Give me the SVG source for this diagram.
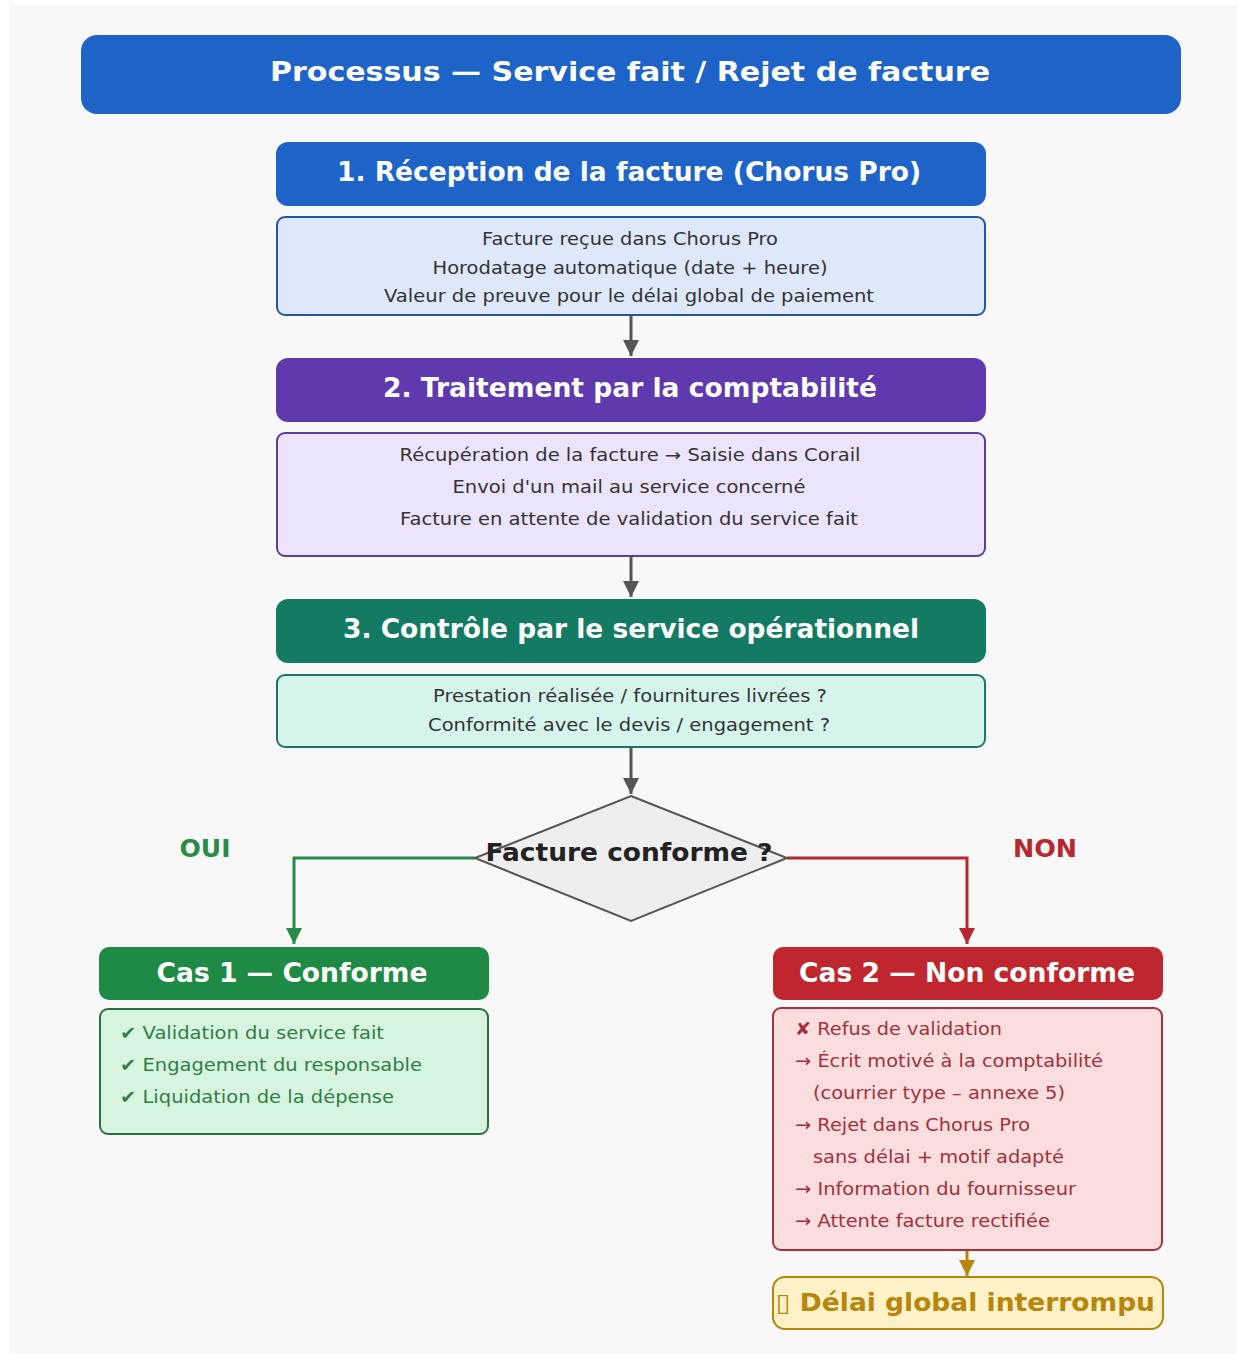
<svg xmlns="http://www.w3.org/2000/svg" width="1237" height="1354" viewBox="0 0 1237 1354">
<style>
text{font-family:"DejaVu Sans","Liberation Sans",sans-serif}
.h{font-weight:bold;fill:#ffffff;text-anchor:middle;font-size:26px}
.b{font-size:17px;fill:#333333;text-anchor:middle}
.g{font-size:18px;fill:#2f7d4a}
.r{font-size:18px;fill:#a3303c}
.conn{fill:none;stroke-width:3}
</style>
<defs>
<marker id="agr" markerWidth="16" markerHeight="16" refX="8" refY="16" orient="0" markerUnits="userSpaceOnUse" viewBox="0 0 16 16"><path d="M0,0 L16,0 L8,16 z" fill="#2a8a4a"/></marker>
<marker id="ared" markerWidth="16" markerHeight="16" refX="8" refY="16" orient="0" markerUnits="userSpaceOnUse" viewBox="0 0 16 16"><path d="M0,0 L16,0 L8,16 z" fill="#b8262e"/></marker>
<marker id="agray" markerWidth="16" markerHeight="16" refX="8" refY="16" orient="0" markerUnits="userSpaceOnUse" viewBox="0 0 16 16"><path d="M0,0 L16,0 L8,16 z" fill="#555555"/></marker>
<marker id="agold" markerWidth="16" markerHeight="16" refX="8" refY="16" orient="0" markerUnits="userSpaceOnUse" viewBox="0 0 16 16"><path d="M0,0 L16,0 L8,16 z" fill="#b8860b"/></marker>
</defs>
<rect x="0" y="0" width="1237" height="1354" fill="#ffffff"/>
<rect x="10" y="5" width="1227" height="1349" fill="#f8f8f8"/>

<g id="title">
<rect x="81" y="35" width="1100" height="79" rx="16" fill="#1d63c8"/>
<text class="h" x="630" y="81" font-size="28" textLength="720" lengthAdjust="spacingAndGlyphs">Processus — Service fait / Rejet de facture</text>
</g>

<g id="connectors">
<line class="conn" x1="631" y1="316" x2="631" y2="356" stroke="#555555" marker-end="url(#agray)"/>
<line class="conn" x1="631" y1="557" x2="631" y2="597" stroke="#555555" marker-end="url(#agray)"/>
<line class="conn" x1="631" y1="748" x2="631" y2="794" stroke="#555555" marker-end="url(#agray)"/>
<polyline class="conn" points="475,858 294,858 294,944" stroke="#2a8a4a" marker-end="url(#agr)"/>
<polyline class="conn" points="787,858 967,858 967,944" stroke="#b8262e" marker-end="url(#ared)"/>
<line class="conn" x1="967" y1="1251" x2="967" y2="1276" stroke="#b8860b" marker-end="url(#agold)"/>
</g>

<g id="step1">
<rect x="276" y="142" width="710" height="64" rx="12" fill="#1d63c8"/>
<text class="h" x="629" y="181" textLength="584" lengthAdjust="spacingAndGlyphs">1. Réception de la facture (Chorus Pro)</text>
<rect x="277" y="217" width="708" height="98" rx="8" fill="#dde8fb" stroke="#2456a8" stroke-width="2"/>
<text class="b" x="630" y="245" textLength="296" lengthAdjust="spacingAndGlyphs">Facture reçue dans Chorus Pro</text>
<text class="b" x="630" y="274" textLength="395" lengthAdjust="spacingAndGlyphs">Horodatage automatique (date + heure)</text>
<text class="b" x="629" y="302" textLength="490" lengthAdjust="spacingAndGlyphs">Valeur de preuve pour le délai global de paiement</text>
</g>

<g id="step2">
<rect x="276" y="358" width="710" height="64" rx="12" fill="#5f3aae"/>
<text class="h" x="630" y="397" textLength="494" lengthAdjust="spacingAndGlyphs">2. Traitement par la comptabilité</text>
<rect x="277" y="433" width="708" height="123" rx="8" fill="#ece4fc" stroke="#5e3c9f" stroke-width="2"/>
<text class="b" x="630" y="461" textLength="461" lengthAdjust="spacingAndGlyphs">Récupération de la facture → Saisie dans Corail</text>
<text class="b" x="629" y="493" textLength="353" lengthAdjust="spacingAndGlyphs">Envoi d'un mail au service concerné</text>
<text class="b" x="629" y="525" textLength="458" lengthAdjust="spacingAndGlyphs">Facture en attente de validation du service fait</text>
</g>

<g id="step3">
<rect x="276" y="599" width="710" height="64" rx="12" fill="#137b64"/>
<text class="h" x="631" y="638" textLength="576" lengthAdjust="spacingAndGlyphs">3. Contrôle par le service opérationnel</text>
<rect x="277" y="675" width="708" height="72" rx="8" fill="#d5f5ec" stroke="#167b64" stroke-width="2"/>
<text class="b" x="630" y="702" textLength="394" lengthAdjust="spacingAndGlyphs">Prestation réalisée / fournitures livrées ?</text>
<text class="b" x="629" y="731" textLength="402" lengthAdjust="spacingAndGlyphs">Conformité avec le devis / engagement ?</text>
</g>

<g id="decision">
<polygon points="631,796 787,858 631,921 475,858" fill="#eeeeee" stroke="#555555" stroke-width="2"/>
<text x="629" y="861" text-anchor="middle" font-weight="bold" font-size="24" fill="#222222" textLength="287" lengthAdjust="spacingAndGlyphs">Facture conforme ?</text>
</g>

<g id="labels">
<text x="205" y="857" text-anchor="middle" font-weight="bold" font-size="24" fill="#2a8a4a" textLength="51" lengthAdjust="spacingAndGlyphs">OUI</text>
<text x="1045" y="857" text-anchor="middle" font-weight="bold" font-size="24" fill="#b8262e" textLength="64" lengthAdjust="spacingAndGlyphs">NON</text>
</g>

<g id="cas1">
<rect x="99" y="947" width="390" height="53" rx="10" fill="#1f8a46"/>
<text class="h" x="292" y="982" textLength="271" lengthAdjust="spacingAndGlyphs">Cas 1 — Conforme</text>
<rect x="100" y="1009" width="388" height="125" rx="8" fill="#d7f5de" stroke="#2b6e42" stroke-width="2"/>
<text class="g" x="120" y="1039" textLength="264" lengthAdjust="spacingAndGlyphs">✔ Validation du service fait</text>
<text class="g" x="120" y="1071" textLength="302" lengthAdjust="spacingAndGlyphs">✔ Engagement du responsable</text>
<text class="g" x="120" y="1103" textLength="274" lengthAdjust="spacingAndGlyphs">✔ Liquidation de la dépense</text>
</g>

<g id="cas2">
<rect x="773" y="947" width="390" height="53" rx="10" fill="#c0262e"/>
<text class="h" x="967" y="982" textLength="336" lengthAdjust="spacingAndGlyphs">Cas 2 — Non conforme</text>
<rect x="773" y="1008" width="389" height="242" rx="8" fill="#fbdddd" stroke="#a83040" stroke-width="2"/>
<text class="r" x="795" y="1035" textLength="207" lengthAdjust="spacingAndGlyphs">✘ Refus de validation</text>
<text class="r" x="795" y="1067" textLength="308" lengthAdjust="spacingAndGlyphs">→ Écrit motivé à la comptabilité</text>
<text class="r" x="813" y="1099" textLength="252" lengthAdjust="spacingAndGlyphs">(courrier type – annexe 5)</text>
<text class="r" x="795" y="1131" textLength="235" lengthAdjust="spacingAndGlyphs">→ Rejet dans Chorus Pro</text>
<text class="r" x="813" y="1163" textLength="251" lengthAdjust="spacingAndGlyphs">sans délai + motif adapté</text>
<text class="r" x="795" y="1195" textLength="281" lengthAdjust="spacingAndGlyphs">→ Information du fournisseur</text>
<text class="r" x="795" y="1227" textLength="255" lengthAdjust="spacingAndGlyphs">→ Attente facture rectifiée</text>
</g>

<g id="delai">
<rect x="773" y="1277" width="390" height="52" rx="12" fill="#fdf1c8" stroke="#b8860b" stroke-width="2"/>
<text x="776" y="1311" font-weight="bold" font-size="25" fill="#b8860b" textLength="379" lengthAdjust="spacingAndGlyphs">▯ Délai global interrompu</text>
</g>
</svg>
